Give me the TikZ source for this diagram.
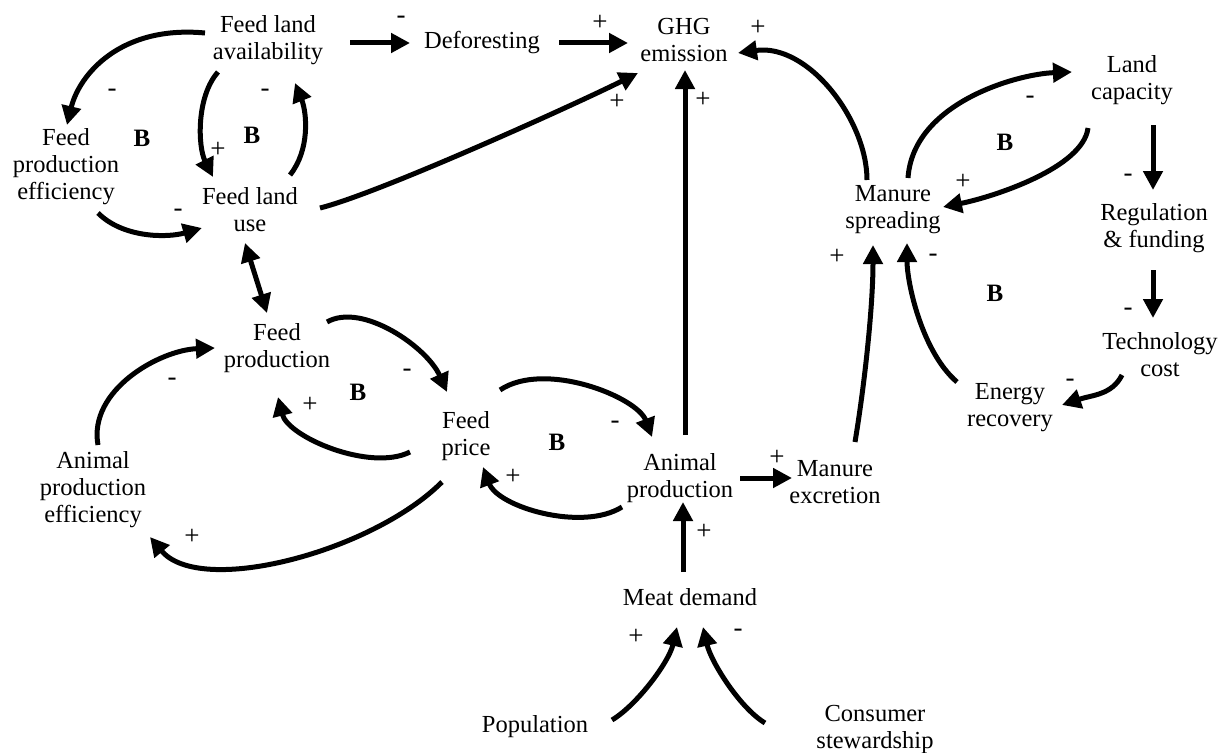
\documentclass[tikz,border=0pt]{standalone}
\usepackage{fontspec}
\setmainfont{Liberation Serif}
\usetikzlibrary{arrows.meta}
\tikzset{
  lbl/.style={align=center, font=\fontsize{24.5}{27}\selectfont, inner sep=0pt},
  sgn/.style={font=\fontsize{27}{28}\selectfont, inner sep=0pt},
  loopB/.style={font=\bfseries\fontsize{25}{26}\selectfont, inner sep=0pt},
  arr/.style={line width=5pt, -{Triangle[length=19pt,width=19pt]}},
  arrtwo/.style={line width=5pt, {Triangle[length=19pt,width=19pt]}-{Triangle[length=19pt,width=19pt]}}
}
\begin{document}
\begin{tikzpicture}[x=1pt,y=-1pt]
\useasboundingbox (0,0) rectangle (1220,752);
% nodes
\node[lbl] (fla) at (268,40) {Feed land\\availability};
\node[lbl] (def) at (482,43) {Deforesting};
\node[lbl] (ghg) at (684,40) {GHG\\emission};
\node[lbl] (fpe) at (66,167) {Feed\\production\\efficiency};
\node[lbl] (flu) at (250,210) {Feed land\\use};
\node[lbl] (ms) at (893,210) {Manure\\spreading};
\node[lbl] (lc) at (1132,80) {Land\\capacity};
\node[lbl] (rf) at (1154,228) {Regulation\\\& funding};
\node[lbl] (tc) at (1160,355) {Technology\\cost};
\node[lbl] (er) at (1010,408) {Energy\\recovery};
\node[lbl] (fp) at (277,348) {Feed\\production};
\node[lbl] (fpr) at (466,436) {Feed\\price};
\node[lbl] (ap) at (680,478) {Animal\\production};
\node[lbl] (me) at (835,482) {Manure\\excretion};
\node[lbl] (ape) at (93,490) {Animal\\production\\efficiency};
\node[lbl] (md) at (690,597) {Meat demand};
\node[lbl] (pop) at (535,727) {Population};
\node[lbl] (cs) at (875,729) {Consumer\\stewardship};
% loop markers
\node[loopB] (b1) at (142,138) {B};
\node[loopB] (b2) at (252,135) {B};
\node[loopB] (b3) at (358,392) {B};
\node[loopB] (b4) at (557,442) {B};
\node[loopB] (b5) at (1005,142) {B};
\node[loopB] (b6) at (995,293) {B};
% connectors
\draw[arr] ([shift={(-63,-7)}]fla.center) .. controls +(-85,-8) and +(12,-50) .. ([shift={(1,-42)}]fpe.center);
\draw[arr] ([shift={(-50,32)}]fla.center) .. controls +(-22,25) and +(-15,-30) .. ([shift={(-37,-33)}]flu.center);
\draw[arr] ([shift={(40,-35)}]flu.center) .. controls +(20,-25) and +(12,30) .. ([shift={(27,43)}]fla.center);
\draw[arr] ([shift={(32,46)}]fpe.center) .. controls +(25,25) and +(-35,10) .. ([shift={(-48,18)}]flu.center);
\draw[arr] ([shift={(82,3)}]fla.center) -- ([shift={(-72,0)}]def.center);
\draw[arr] ([shift={(77,0)}]def.center) -- ([shift={(-56,3)}]ghg.center);
\draw[arr] ([shift={(70,-2)}]flu.center) .. controls +(60,-15) and +(-60,30) .. ([shift={(-46,33)}]ghg.center);
\draw[arr] ([shift={(5,-43)}]ap.center) -- ([shift={(1,30)}]ghg.center);
\draw[arr] ([shift={(-26,-30)}]ms.center) .. controls +(0,-60) and +(70,-10) .. ([shift={(54,13)}]ghg.center);
\draw[arr] ([shift={(15,-32)}]ms.center) .. controls +(5,-75) and +(-55,2) .. ([shift={(-60,-8)}]lc.center);
\draw[arr] ([shift={(-44,48)}]lc.center) .. controls +(-5,40) and +(50,-10) .. ([shift={(50,-3)}]ms.center);
\draw[arr] ([shift={(21,45)}]lc.center) -- ([shift={(-1,-38)}]rf.center);
\draw[arr] ([shift={(-1,42)}]rf.center) -- ([shift={(-7,-37)}]tc.center);
\draw[arr] ([shift={(-38,20)}]tc.center) .. controls +(-10,20) and +(30,-10) .. ([shift={(52,-3)}]er.center);
\draw[arr] ([shift={(-53,-26)}]er.center) .. controls +(-35,-30) and +(0,40) .. ([shift={(14,33)}]ms.center);
\draw[arr] ([shift={(20,-40)}]me.center) .. controls +(10,-60) and +(0,60) .. ([shift={(-20,35)}]ms.center);
\draw[arr] ([shift={(60,0)}]ap.center) -- ([shift={(-43,-4)}]me.center);
\draw[arr] ([shift={(-7,-25)}]md.center) -- ([shift={(3,24)}]ap.center);
\draw[arr] ([shift={(77,-7)}]pop.center) .. controls +(25,-15) and +(-8,35) .. ([shift={(-13,30)}]md.center);
\draw[arr] ([shift={(-110,-6)}]cs.center) .. controls +(-25,-15) and +(8,35) .. ([shift={(13,30)}]md.center);
\draw[arrtwo] ([shift={(-5,33)}]flu.center) -- ([shift={(-10,-35)}]fp.center);
\draw[arr] ([shift={(50,-26)}]fp.center) .. controls +(35,-20) and +(-20,-45) .. ([shift={(-19,-44)}]fpr.center);
\draw[arr] ([shift={(-56,16)}]fpr.center) .. controls +(-40,20) and +(10,40) .. ([shift={(1,49)}]fp.center);
\draw[arr] ([shift={(5,-45)}]ape.center) .. controls +(-10,-55) and +(-55,2) .. ([shift={(-62,0)}]fp.center);
\draw[arr] ([shift={(-24,46)}]fpr.center) .. controls +(-70,70) and +(50,60) .. ([shift={(57,47)}]ape.center);
\draw[arr] ([shift={(34,-46)}]fpr.center) .. controls +(45,-30) and +(-15,-40) .. ([shift={(-28,-41)}]ap.center);
\draw[arr] ([shift={(-58,29)}]ap.center) .. controls +(-40,25) and +(15,40) .. ([shift={(17,31)}]fpr.center);
% signs
\node[sgn] (s1) at (112,93) {-};
\node[sgn] (s2) at (218,150) {+};
\node[sgn] (s3) at (265,93) {-};
\node[sgn] (s4) at (178,213) {-};
\node[sgn] (s5) at (401,20) {-};
\node[sgn] (s6) at (600,23) {+};
\node[sgn] (s7) at (617,102) {+};
\node[sgn] (s8) at (703,100) {+};
\node[sgn] (s9) at (758,28) {+};
\node[sgn] (s10) at (1030,100) {-};
\node[sgn] (s11) at (963,182) {+};
\node[sgn] (s12) at (1128,178) {-};
\node[sgn] (s13) at (1128,312) {-};
\node[sgn] (s14) at (1070,383) {-};
\node[sgn] (s15) at (933,258) {-};
\node[sgn] (s16) at (837,257) {+};
\node[sgn] (s17) at (777,458) {+};
\node[sgn] (s18) at (704,532) {+};
\node[sgn] (s19) at (636,637) {+};
\node[sgn] (s20) at (738,633) {-};
\node[sgn] (s21) at (407,373) {-};
\node[sgn] (s22) at (310,405) {+};
\node[sgn] (s23) at (172,382) {-};
\node[sgn] (s24) at (192,537) {+};
\node[sgn] (s25) at (615,425) {-};
\node[sgn] (s26) at (513,477) {+};
\end{tikzpicture}
\end{document}
